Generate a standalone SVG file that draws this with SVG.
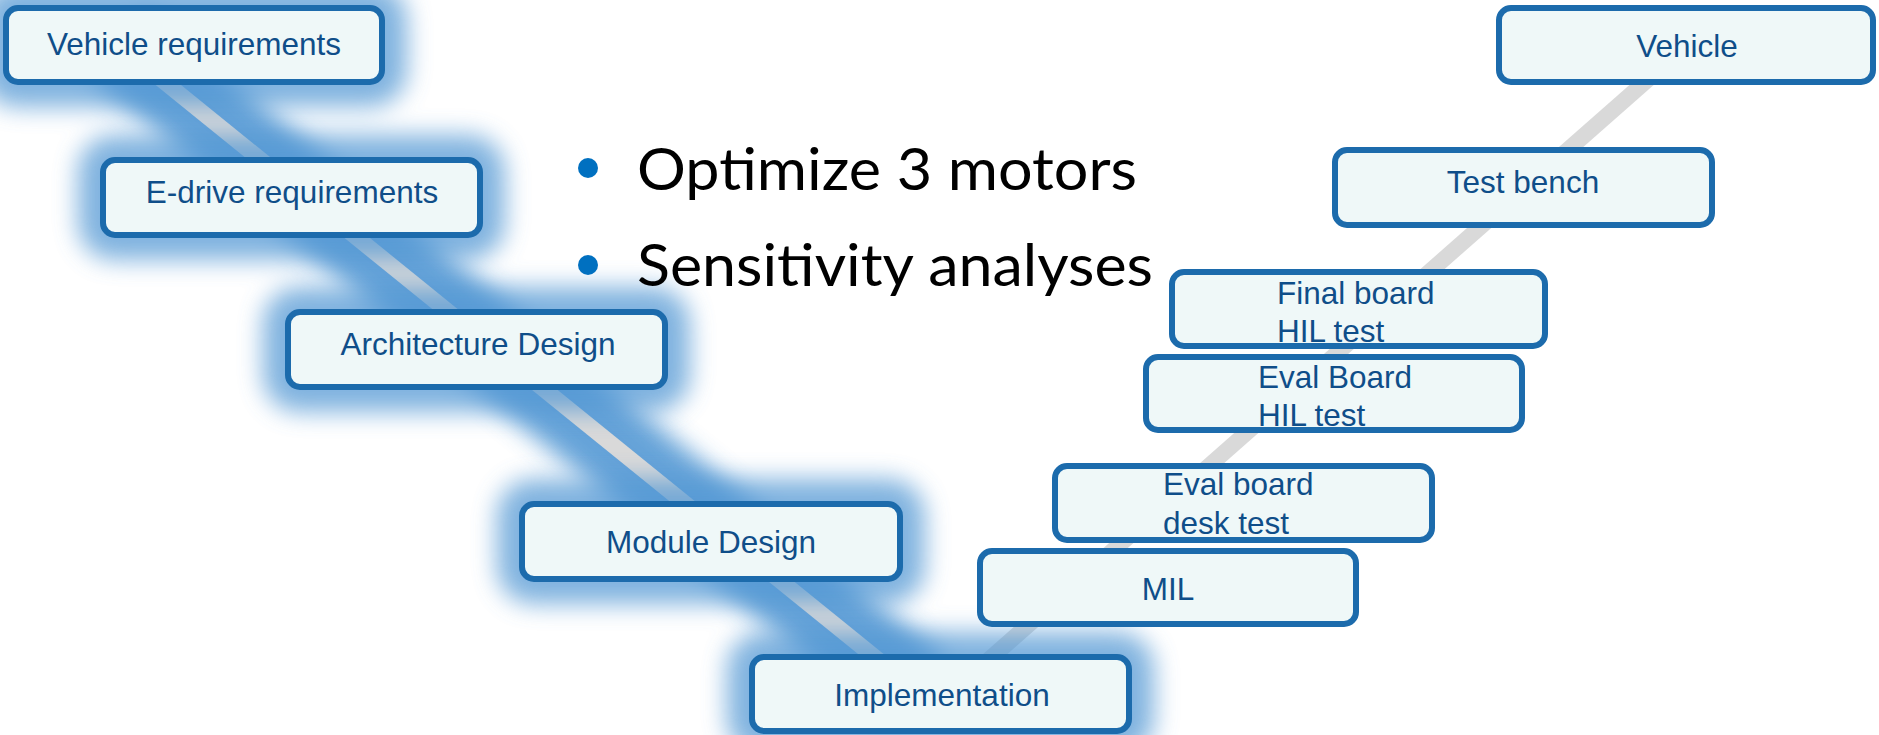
<svg xmlns="http://www.w3.org/2000/svg" width="1879" height="735" viewBox="0 0 1879 735">
  <defs>
    <filter id="blur" filterUnits="userSpaceOnUse" x="-100" y="-100" width="2100" height="950">
      <feGaussianBlur stdDeviation="12"/>
    </filter>
    <style>
      .box { fill: #eff8f8; stroke: #1c6bac; stroke-width: 6; }
      .lbl { font-family: "Liberation Sans", Arial, sans-serif; font-size: 31.5px; fill: #0f4e89; }
      .mid { text-anchor: middle; }
      .glow { fill: #5599d4; stroke: #5599d4; stroke-width: 50; stroke-linejoin: round; }
      .glowline { stroke: #5599d4; stroke-width: 86; stroke-linecap: butt; fill: none; }
      .vline { stroke: #d9d9d9; stroke-width: 16; fill: none; }
      .bul { font-family: Lato, "Open Sans", sans-serif; font-size: 59px; fill: #000000; }
    </style>
  </defs>
  <rect width="1879" height="735" fill="#ffffff"/>

  <!-- glow under the left leg line -->
  <g id="glow-line" filter="url(#blur)" opacity="0.9">
    <line class="glowline" x1="119" y1="45" x2="919" y2="693"/>
  </g>

  <g id="connectors">
    <line class="vline" x1="119" y1="45" x2="919" y2="693"/>
    <line class="vline" x1="1687" y1="45" x2="951" y2="693"/>
  </g>

  <!-- glow around left leg boxes -->
  <g id="glow-boxes" filter="url(#blur)" opacity="0.75">
    <rect class="glow" x="6" y="8" width="376" height="74" rx="12"/>
    <rect class="glow" x="103" y="160" width="377" height="75" rx="12"/>
    <rect class="glow" x="288" y="312" width="377" height="75" rx="12"/>
    <rect class="glow" x="522" y="504" width="378" height="75" rx="12"/>
    <rect class="glow" x="752" y="657" width="377" height="74" rx="12"/>
  </g>

  <g id="bullets">
    <circle cx="588" cy="168" r="10" fill="#0070c0"/>
    <text class="bul" x="637" y="190" textLength="500" lengthAdjust="spacingAndGlyphs">Optimize 3 motors</text>
    <circle cx="588" cy="265" r="10" fill="#0070c0"/>
    <text class="bul" x="637" y="286" textLength="516" lengthAdjust="spacingAndGlyphs">Sensitivity analyses</text>
  </g>

  <g id="vehicle-requirements">
    <rect class="box" x="6" y="8" width="376" height="74" rx="12"/>
    <text class="lbl mid" x="194" y="55">Vehicle requirements</text>
  </g>
  <g id="edrive-requirements">
    <rect class="box" x="103" y="160" width="377" height="75" rx="12"/>
    <text class="lbl mid" x="292" y="203">E-drive requirements</text>
  </g>
  <g id="architecture-design">
    <rect class="box" x="288" y="312" width="377" height="75" rx="12"/>
    <text class="lbl mid" x="478" y="355">Architecture Design</text>
  </g>
  <g id="module-design">
    <rect class="box" x="522" y="504" width="378" height="75" rx="12"/>
    <text class="lbl mid" x="711" y="553">Module Design</text>
  </g>
  <g id="implementation">
    <rect class="box" x="752" y="657" width="377" height="74" rx="12"/>
    <text class="lbl mid" x="942" y="706">Implementation</text>
  </g>
  <g id="mil">
    <rect class="box" x="980" y="551" width="376" height="73" rx="12"/>
    <text class="lbl mid" x="1168" y="600">MIL</text>
  </g>
  <g id="eval-board-desk-test">
    <rect class="box" x="1055" y="466" width="377" height="74" rx="12"/>
    <text class="lbl" x="1163" y="495">Eval board</text>
    <text class="lbl" x="1163" y="534">desk test</text>
  </g>
  <g id="eval-board-hil-test">
    <rect class="box" x="1146" y="357" width="376" height="73" rx="12"/>
    <text class="lbl" x="1258" y="388">Eval Board</text>
    <text class="lbl" x="1258" y="426">HIL test</text>
  </g>
  <g id="final-board-hil-test">
    <rect class="box" x="1172" y="272" width="373" height="74" rx="12"/>
    <text class="lbl" x="1277" y="304">Final board</text>
    <text class="lbl" x="1277" y="342">HIL test</text>
  </g>
  <g id="test-bench">
    <rect class="box" x="1335" y="150" width="377" height="75" rx="12"/>
    <text class="lbl mid" x="1523" y="193">Test bench</text>
  </g>
  <g id="vehicle">
    <rect class="box" x="1499" y="8" width="374" height="74" rx="12"/>
    <text class="lbl mid" x="1687" y="57">Vehicle</text>
  </g>
</svg>
